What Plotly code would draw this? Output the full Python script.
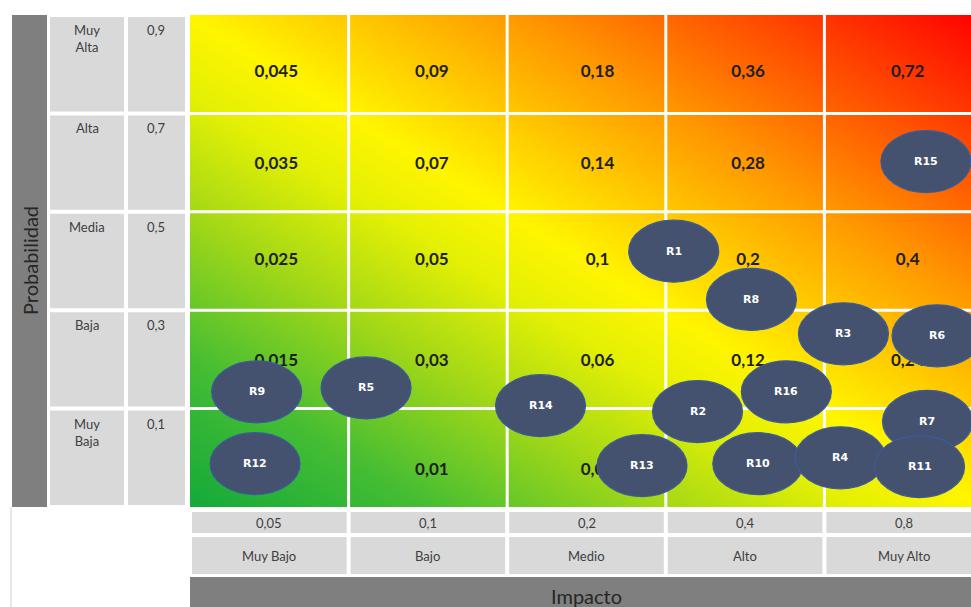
import plotly.graph_objects as go

# ---------------- data ----------------
impact_levels = ["Muy Bajo", "Bajo", "Medio", "Alto", "Muy Alto"]
impact_values = [0.05, 0.1, 0.2, 0.4, 0.8]

# probability rows, listed bottom to top
prob_levels = ["Muy Baja", "Baja", "Media", "Alta", "Muy Alta"]
prob_values = [0.1, 0.3, 0.5, 0.7, 0.9]

# risks placed on the matrix (impact column units, probability row units)
risk_ids = ["R1", "R2", "R3", "R4", "R5", "R6", "R7", "R8",
            "R9", "R10", "R11", "R12", "R13", "R14", "R15", "R16"]
risk_impact = [3.05, 3.20, 4.12, 4.10, 1.11, 4.71, 4.65, 3.54,
               0.42, 3.58, 4.60, 0.41, 2.85, 2.21, 4.64, 3.76]
risk_prob = [2.60, 0.97, 1.76, 0.50, 1.21, 1.74, 0.87, 2.11,
             1.17, 0.44, 0.41, 0.44, 0.42, 1.03, 3.51, 1.17]

# drawing order (later ones sit on top)
risk_order = ["R1", "R8", "R2", "R3", "R5", "R6", "R7", "R9", "R12",
              "R10", "R4", "R11", "R13", "R14", "R15", "R16"]

# ---------------- layout constants ----------------
W, H = 971, 607
GRID_LEFT, GRID_TOP, GRID_BOTTOM = 190, 15, 507
CELL_W = 158.6
CELL_H = (GRID_BOTTOM - GRID_TOP) / 5
N = 5

DARK = "#7f7f7f"
LIGHT = "#d9d9d9"
LABEL_TXT = "#404040"
ELL_FILL = "#44526f"
ELL_LINE = "#3a5c9c"
ELL_W_PX, ELL_H_PX = 90, 62

gradient_scale = [
    [0.00, "#14a93a"], [0.15, "#45bd33"], [0.30, "#a3d817"],
    [0.42, "#e4f004"], [0.50, "#fff500"], [0.60, "#ffc800"],
    [0.70, "#ff9a00"], [0.80, "#ff6600"], [0.90, "#ff3300"],
    [1.00, "#ff0000"],
]
gradient_corners = [[0.0, 0.5], [0.5, 1.0]]


def fmt(v):
    return f"{round(v, 4):g}".replace(".", ",")


def px2paper_x(p):
    return p / W


def px2paper_y(p):
    return 1 - p / H


fig = go.Figure()

# diagonal colour wash behind the matrix
fig.add_trace(go.Heatmap(
    x=[0, N], y=[0, N], z=gradient_corners,
    colorscale=gradient_scale, zmin=0, zmax=1,
    zsmooth="best", showscale=False, hoverinfo="skip",
))

# score of each cell = probability x impact
cx, cy, ctext = [], [], []
x_nudge = [7, 4, 11, 3, 4]
y_nudge = [-13, -2, 0, -2, -9]
for r, p in enumerate(prob_values):
    for c, imp in enumerate(impact_values):
        cx.append(c + 0.5 + x_nudge[c] / CELL_W)
        cy.append(r + 0.5 + y_nudge[r] / CELL_H)
        ctext.append(f"<b>{fmt(p * imp)}</b>")

fig.add_trace(go.Scatter(
    x=cx, y=cy, text=ctext, mode="text",
    textfont=dict(family="Lato", size=17, color="#1f1f1f"),
    hoverinfo="skip", showlegend=False, cliponaxis=False,
))

shapes = []

# white separators inside the matrix
for k in range(1, N):
    shapes.append(dict(type="line", xref="x", yref="y", x0=k, x1=k, y0=0, y1=N,
                       line=dict(color="white", width=3)))
    shapes.append(dict(type="line", xref="x", yref="y", x0=0, x1=N, y0=k, y1=k,
                       line=dict(color="white", width=3)))

# left side: axis bar and row label cells
shapes.append(dict(type="rect", xref="paper", yref="y",
                   x0=px2paper_x(12), x1=px2paper_x(47), y0=0, y1=N,
                   fillcolor=DARK, line_width=0, layer="below"))
gap_y = 2 / CELL_H
for r in range(N):
    for (a, b) in [(50, 124), (128, 185)]:
        shapes.append(dict(type="rect", xref="paper", yref="y",
                           x0=px2paper_x(a), x1=px2paper_x(b),
                           y0=r + gap_y, y1=r + 1 - gap_y,
                           fillcolor=LIGHT, line_width=0, layer="below"))

# bottom side: impact value row, name row, axis bar
gap_x = 2 / CELL_W
for c in range(N):
    for (a, b) in [(512, 533), (537, 574)]:
        shapes.append(dict(type="rect", xref="x", yref="paper",
                           x0=c + gap_x, x1=c + 1 - gap_x,
                           y0=px2paper_y(b), y1=px2paper_y(a),
                           fillcolor=LIGHT, line_width=0, layer="below"))
shapes.append(dict(type="rect", xref="x", yref="paper",
                   x0=0, x1=N, y0=0, y1=px2paper_y(577),
                   fillcolor=DARK, line_width=0, layer="below"))
shapes.append(dict(type="line", xref="paper", yref="paper",
                   x0=px2paper_x(11), x1=px2paper_x(11),
                   y0=0, y1=px2paper_y(507),
                   line=dict(color="#d0d0d0", width=1), layer="below"))

# risk bubbles
ew = ELL_W_PX / CELL_W / 2
eh = ELL_H_PX / CELL_H / 2
annotations = []
for rid in risk_order:
    i = risk_ids.index(rid)
    x, y = risk_impact[i], risk_prob[i]
    shapes.append(dict(type="circle", xref="x", yref="y",
                       x0=x - ew, x1=x + ew, y0=y - eh, y1=y + eh,
                       fillcolor=ELL_FILL, line=dict(color=ELL_LINE, width=1.2)))
    annotations.append(dict(x=x, y=y, xref="x", yref="y", text=f"<b>{rid}</b>",
                            showarrow=False,
                            font=dict(family="DejaVu Sans", size=11, color="white")))

# row labels
for r, (name, val) in enumerate(zip(prob_levels, prob_values)):
    annotations.append(dict(x=px2paper_x(87), y=r + 1, xref="paper", yref="y",
                            text=name.replace(" ", "<br>"), showarrow=False,
                            xanchor="center", yanchor="top", yshift=-5,
                            font=dict(family="Lato", size=13, color=LABEL_TXT)))
    annotations.append(dict(x=px2paper_x(156), y=r + 1, xref="paper", yref="y",
                            text=fmt(val), showarrow=False,
                            xanchor="center", yanchor="top", yshift=-5,
                            font=dict(family="Lato", size=13, color=LABEL_TXT)))

# column labels
for c, (name, val) in enumerate(zip(impact_levels, impact_values)):
    annotations.append(dict(x=c + 0.5, y=px2paper_y(522.5), xref="x", yref="paper",
                            text=fmt(val), showarrow=False, yanchor="middle",
                            font=dict(family="Lato", size=13, color=LABEL_TXT)))
    annotations.append(dict(x=c + 0.5, y=px2paper_y(556), xref="x", yref="paper",
                            text=name, showarrow=False, yanchor="middle",
                            font=dict(family="Lato", size=13, color=LABEL_TXT)))

# axis titles
annotations.append(dict(x=px2paper_x(30), y=N / 2, xref="paper", yref="y",
                        text="Probabilidad", textangle=-90, showarrow=False,
                        xanchor="center", yanchor="middle",
                        font=dict(family="Lato", size=20, color="#262626")))
annotations.append(dict(x=N / 2, y=px2paper_y(596), xref="x", yref="paper",
                        text="Impacto", showarrow=False,
                        xanchor="center", yanchor="middle",
                        font=dict(family="Lato", size=20, color="#262626")))

fig.update_layout(
    width=W, height=H,
    margin=dict(l=0, r=0, t=0, b=0),
    paper_bgcolor="white", plot_bgcolor="white",
    showlegend=False,
    shapes=shapes, annotations=annotations,
    xaxis=dict(domain=[GRID_LEFT / W, 1], range=[0, (W - GRID_LEFT) / CELL_W],
               visible=False, fixedrange=True),
    yaxis=dict(domain=[(H - GRID_BOTTOM) / H, (H - GRID_TOP) / H], range=[0, N],
               visible=False, fixedrange=True),
)

fig.write_html("out.html")
